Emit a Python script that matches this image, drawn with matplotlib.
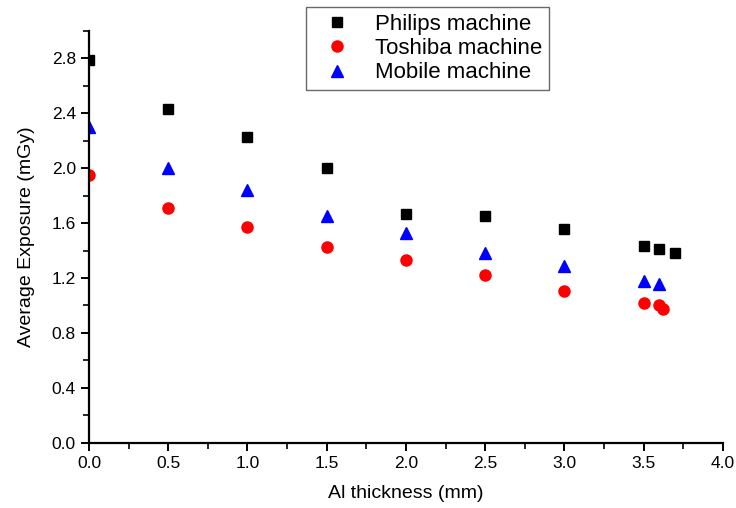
import matplotlib.pyplot as plt
from matplotlib.ticker import MultipleLocator

plt.rcParams['font.family'] = ['Liberation Sans', 'DejaVu Sans']

# Al thickness (mm)
philips_x = [0.0, 0.5, 1.0, 1.5, 2.0, 2.5, 3.0, 3.5, 3.6, 3.7]
philips_y = [2.79, 2.43, 2.23, 2.00, 1.67, 1.655, 1.56, 1.43, 1.41, 1.385]

toshiba_x = [0.0, 0.5, 1.0, 1.5, 2.0, 2.5, 3.0, 3.5, 3.6, 3.62]
toshiba_y = [1.95, 1.71, 1.57, 1.425, 1.33, 1.22, 1.105, 1.02, 1.00, 0.975]

mobile_x = [0.0, 0.5, 1.0, 1.5, 2.0, 2.5, 3.0, 3.5, 3.6]
mobile_y = [2.30, 2.00, 1.845, 1.65, 1.525, 1.38, 1.285, 1.175, 1.155]

fig = plt.figure(figsize=(7.36, 5.08), dpi=100)
ax = fig.add_axes([0.121, 0.1285, 0.861, 0.8105])

ax.plot(philips_x, philips_y, 's', color='black', markersize=7.2, label='Philips machine')
ax.plot(toshiba_x, toshiba_y, 'o', color='red', markersize=8, label='Toshiba machine')
ax.plot(mobile_x, mobile_y, '^', color='blue', markersize=9, label='Mobile machine')

ax.set_xlim(0, 4.0)
ax.set_ylim(0, 3.0)
ax.xaxis.set_major_locator(MultipleLocator(0.5))
ax.xaxis.set_minor_locator(MultipleLocator(0.25))
ax.yaxis.set_major_locator(MultipleLocator(0.4))
ax.yaxis.set_minor_locator(MultipleLocator(0.2))
ax.xaxis.set_major_formatter('{x:.1f}')
ax.yaxis.set_major_formatter('{x:.1f}')

for s in ['top', 'right']:
    ax.spines[s].set_visible(False)
for s in ['left', 'bottom']:
    ax.spines[s].set_linewidth(1.6)

ax.tick_params(which='major', length=6, width=1.4, labelsize=12.5)
ax.tick_params(which='minor', length=4, width=1.2)

ax.set_xlabel('Al thickness (mm)', fontsize=14, labelpad=10)
ax.set_ylabel('Average Exposure (mGy)', fontsize=14, labelpad=12)

leg = fig.legend(loc='upper left', bbox_to_anchor=(306/736, 1 - 7/508), fontsize=16,
                 frameon=True, fancybox=False, borderpad=0.3, handletextpad=0.6,
                 labelspacing=0.15, handlelength=2.2, borderaxespad=0)
leg.get_frame().set_edgecolor('#444444')
leg.get_frame().set_linewidth(1.0)

plt.savefig('out.png', dpi=100)
